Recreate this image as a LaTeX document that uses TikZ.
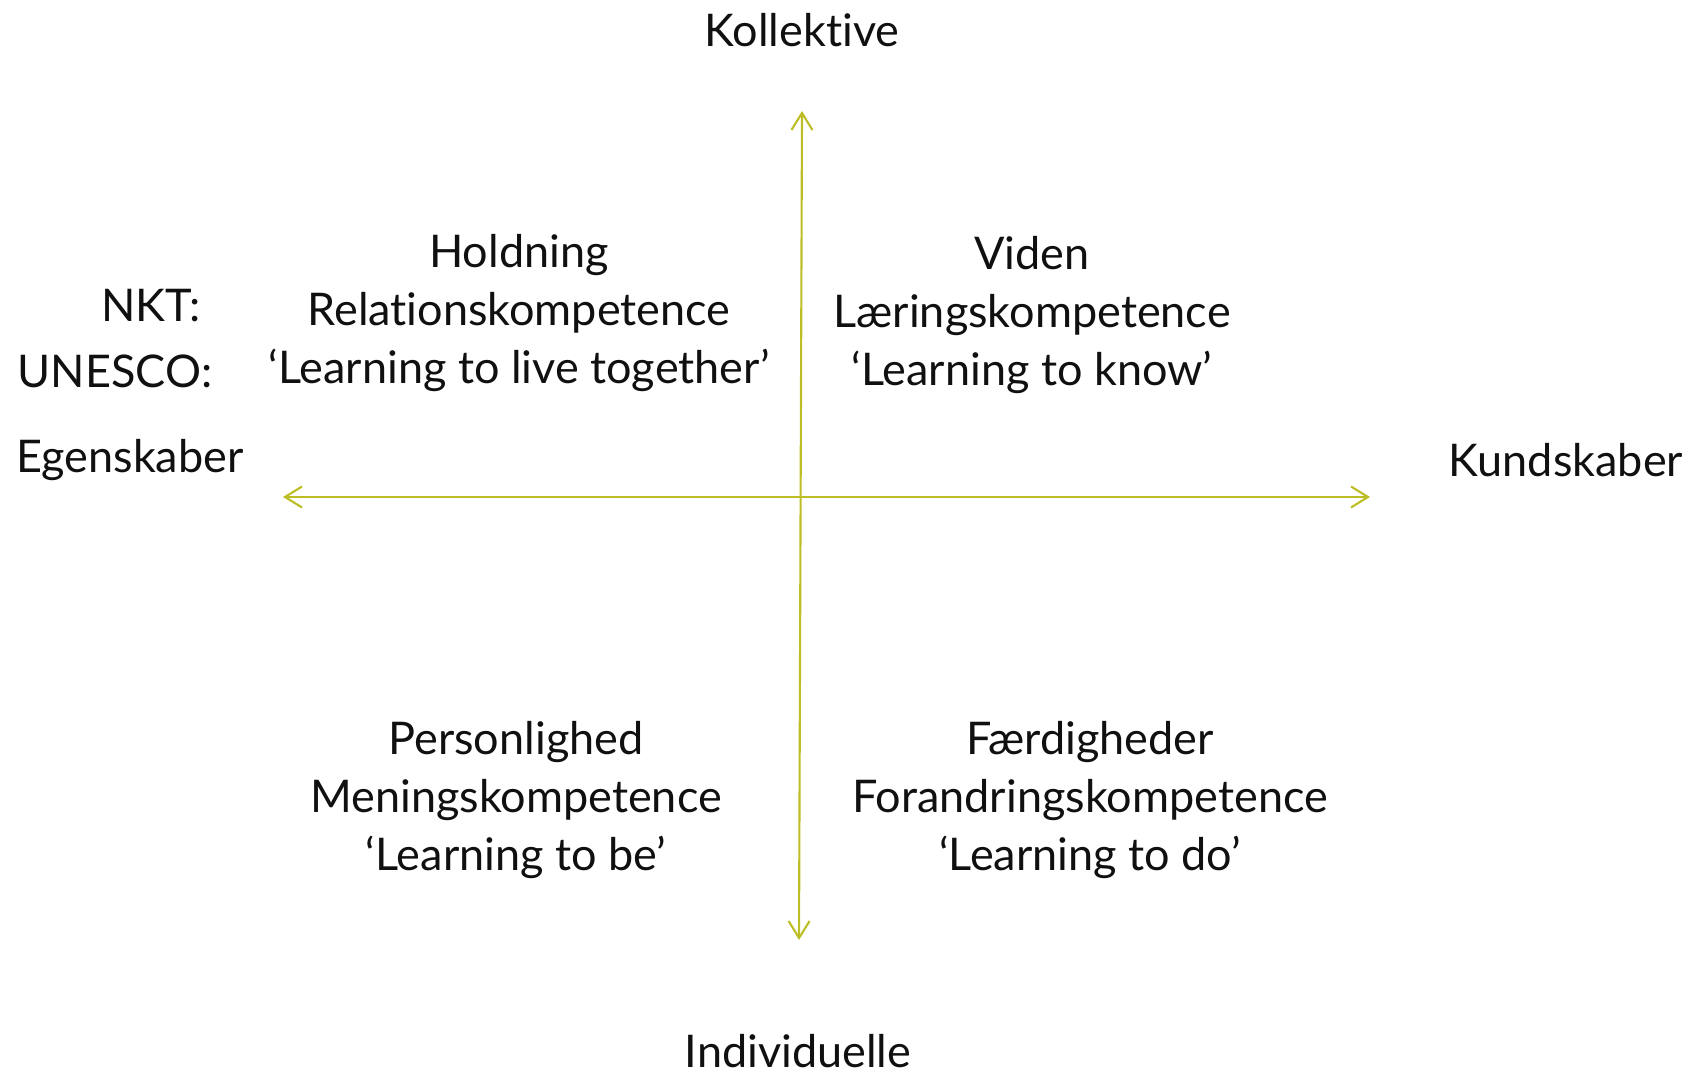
\documentclass[tikz,border=0pt]{standalone}
\usepackage{fontspec}
\setmainfont{Lato}[Ligatures=NoCommon]
\usepackage{xcolor}
\usetikzlibrary{arrows.meta,positioning}
\definecolor{cOlive}{HTML}{BDBD26}
\definecolor{cInk}{HTML}{101010}
\tikzset{
  axis/.style={{Straight Barb[length=1.7mm,width=2.1mm]}-{Straight Barb[length=1.7mm,width=2.1mm]},line width=0.6pt,color=cOlive},
  lbl/.style={font=\fontsize{12.8}{16.5}\selectfont,text=cInk,inner sep=0pt},
  quad/.style={lbl,align=center},
}
\begin{document}
\begin{tikzpicture}[x=0.01cm,y=-0.01cm]
    \useasboundingbox (0,0) rectangle (1695,1074);
    % axes
    \coordinate (top) at (802,111);
    \coordinate (bot) at (799,940);
    \coordinate (left) at (283,497);
    \coordinate (right) at (1370,497);
    \draw[axis] (bot) -- (top);
    \draw[axis] (left) -- (right);
    % axis labels
    \node[lbl] (kol) at (802,30) {Kollektive};
    \node[lbl,anchor=base] (ind) at (798,1067) {Individuelle};
    \node[lbl] (egen) at (130,460) {Egenskaber};
    \node[lbl] (kund) at (1566,460) {Kundskaber};
    % row labels
    \node[lbl] (nkt) at (151,306) {NKT:};
    \node[lbl] (unesco) at (115,371) {UNESCO:};
    % quadrants
    \node[quad] (hold) at (519,313) {Holdning\\Relationskompetence\\`Learning to live together'};
    \node[quad] (viden) at (1032,315) {Viden\\Læringskompetence\\`Learning to know'};
    \node[quad] (pers) at (516,800) {Personlighed\\Meningskompetence\\`Learning to be'};
    \node[quad] (faerd) at (1090,800) {Færdigheder\\Forandringskompetence\\`Learning to do'};
  \end{tikzpicture}
\end{document}
